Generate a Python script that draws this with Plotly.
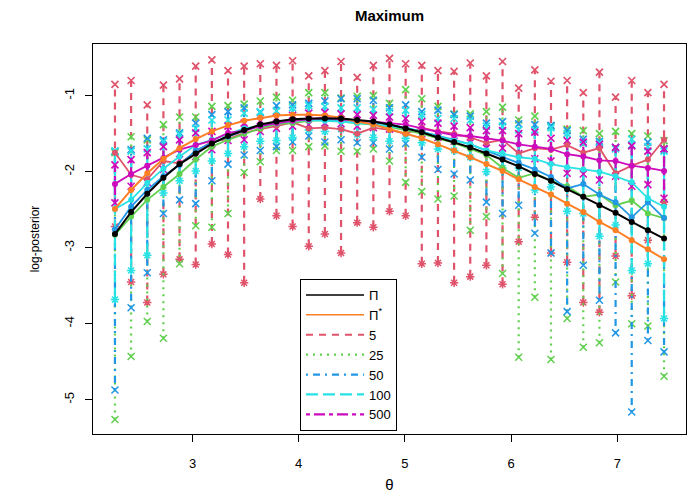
import numpy as np
import plotly.graph_objects as go

# grid of theta values
theta = np.linspace(2.27, 7.44, 35)

# exact log-posterior and its approximation
pi_exact = [-2.82, -2.53, -2.29, -2.08, -1.90, -1.76, -1.63, -1.53, -1.45, -1.38, -1.34, -1.31,
            -1.30, -1.30, -1.30, -1.32, -1.34, -1.38, -1.43, -1.48, -1.55, -1.61, -1.68, -1.76,
            -1.84, -1.93, -2.03, -2.12, -2.23, -2.33, -2.44, -2.54, -2.66, -2.77, -2.88]
pi_star = [-2.49, -2.24, -2.02, -1.83, -1.69, -1.57, -1.47, -1.39, -1.33, -1.29, -1.26, -1.25,
           -1.25, -1.26, -1.29, -1.34, -1.38, -1.44, -1.50, -1.56, -1.64, -1.72, -1.81, -1.90,
           -1.99, -2.10, -2.20, -2.30, -2.42, -2.53, -2.66, -2.77, -2.90, -3.02, -3.15]

sizes = ["5", "25", "50", "100", "500"]

# mean curves per sample size
mean_5 = [-1.75, -2.04, -2.10, -1.86, -1.89, -1.75, -1.60, -1.57, -1.49, -1.44, -1.40, -1.35,
          -1.43, -1.42, -1.44, -1.50, -1.42, -1.45, -1.50, -1.42, -1.47, -1.50, -1.55, -1.62,
          -1.58, -1.76, -1.69, -1.71, -1.65, -1.75, -1.69, -2.02, -1.92, -1.84, -1.58]
mean_25 = [-2.83, -2.59, -2.37, -2.20, -2.03, -1.84, -1.67, -1.58, -1.50, -1.43, -1.37, -1.36,
           -1.33, -1.32, -1.34, -1.36, -1.38, -1.41, -1.45, -1.50, -1.56, -1.62, -1.70, -1.78,
           -1.95, -2.08, -2.02, -2.12, -2.19, -2.33, -2.30, -2.44, -2.38, -2.55, -2.61]
mean_50 = [-2.76, -2.46, -2.24, -2.06, -1.91, -1.72, -1.62, -1.54, -1.46, -1.40, -1.36, -1.33,
           -1.31, -1.31, -1.32, -1.33, -1.35, -1.38, -1.42, -1.47, -1.52, -1.58, -1.64, -1.72,
           -1.80, -1.88, -1.97, -2.07, -2.22, -2.16, -2.30, -2.40, -2.60, -2.40, -2.61]
mean_100 = [-2.49, -2.37, -2.15, -1.96, -1.80, -1.65, -1.58, -1.51, -1.43, -1.40, -1.36, -1.33,
            -1.32, -1.33, -1.34, -1.36, -1.38, -1.40, -1.43, -1.47, -1.54, -1.59, -1.64, -1.72,
            -1.76, -1.81, -1.83, -1.90, -1.94, -1.97, -2.00, -2.06, -2.14, -2.35, -2.46]
mean_500 = [-2.16, -2.03, -1.92, -1.82, -1.71, -1.65, -1.59, -1.49, -1.46, -1.40, -1.36, -1.33,
            -1.31, -1.29, -1.31, -1.33, -1.34, -1.36, -1.38, -1.43, -1.48, -1.52, -1.53, -1.56,
            -1.59, -1.64, -1.67, -1.70, -1.77, -1.80, -1.85, -1.86, -1.92, -1.95, -1.99]

# maxima over replicates
hi_5 = [-0.85, -0.80, -1.12, -0.86, -0.78, -0.61, -0.53, -0.67, -0.61, -0.58, -0.60, -0.54,
        -0.74, -0.67, -0.55, -0.76, -0.60, -0.51, -0.58, -0.60, -0.67, -0.68, -0.57, -0.74,
        -0.55, -0.90, -0.66, -0.81, -0.80, -0.96, -0.69, -1.02, -0.80, -0.96, -0.85]
hi_25 = [-1.75, -1.54, -1.58, -1.38, -1.28, -1.28, -1.14, -1.13, -1.11, -1.07, -1.02, -1.06,
         -0.96, -0.96, -1.03, -1.01, -1.00, -1.10, -0.92, -1.04, -1.14, -1.24, -1.24, -1.21,
         -1.15, -1.32, -1.27, -1.40, -1.44, -1.46, -1.50, -1.47, -1.50, -1.53, -1.59]
hi_50 = [-1.73, -1.71, -1.56, -1.58, -1.49, -1.36, -1.25, -1.21, -1.16, -1.22, -1.13, -1.12,
         -1.10, -1.07, -1.04, -1.04, -1.06, -1.16, -1.12, -1.21, -1.19, -1.25, -1.27, -1.36,
         -1.34, -1.37, -1.38, -1.39, -1.46, -1.57, -1.60, -1.68, -1.65, -1.61, -1.70]
hi_100 = [-1.73, -1.73, -1.70, -1.60, -1.51, -1.43, -1.32, -1.32, -1.23, -1.21, -1.20, -1.16,
          -1.13, -1.14, -1.16, -1.16, -1.18, -1.21, -1.19, -1.25, -1.30, -1.30, -1.32, -1.40,
          -1.40, -1.45, -1.45, -1.42, -1.50, -1.63, -1.62, -1.70, -1.57, -1.67, -1.73]
hi_500 = [-1.91, -1.84, -1.75, -1.67, -1.58, -1.49, -1.47, -1.40, -1.36, -1.33, -1.29, -1.26,
          -1.23, -1.22, -1.24, -1.25, -1.26, -1.28, -1.30, -1.34, -1.36, -1.40, -1.42, -1.46,
          -1.46, -1.50, -1.48, -1.56, -1.59, -1.61, -1.64, -1.68, -1.66, -1.73, -1.70]

# minima over replicates
lo_5 = [-2.72, -3.45, -3.72, -3.35, -3.15, -3.22, -2.95, -3.09, -3.46, -2.36, -2.58, -2.72,
        -2.98, -2.82, -3.07, -2.67, -2.73, -2.52, -2.58, -3.21, -3.20, -3.46, -3.38, -3.23,
        -3.48, -2.92, -2.60, -3.07, -3.19, -3.72, -3.85, -3.11, -3.63, -2.90, -2.40]
lo_25 = [-5.26, -4.43, -3.97, -4.19, -3.21, -2.71, -2.73, -2.55, -2.01, -1.87, -1.72, -1.72,
         -1.67, -1.66, -1.73, -1.73, -1.70, -1.86, -2.14, -2.26, -2.36, -2.32, -2.77, -2.59,
         -3.34, -4.44, -3.65, -4.47, -3.93, -4.31, -4.25, -3.45, -4.00, -4.03, -4.69]
lo_50 = [-4.87, -3.79, -3.33, -2.55, -2.37, -2.42, -2.12, -1.90, -1.78, -1.72, -1.67, -1.61,
         -1.53, -1.61, -1.58, -1.62, -1.62, -1.70, -1.63, -1.81, -1.97, -2.03, -2.11, -2.40,
         -2.55, -2.44, -2.81, -3.07, -3.84, -3.23, -3.69, -4.12, -5.16, -4.22, -4.37]
lo_100 = [-3.68, -3.30, -3.10, -2.28, -2.12, -1.99, -1.86, -1.76, -1.67, -1.60, -1.59, -1.55,
          -1.45, -1.47, -1.44, -1.51, -1.55, -1.60, -1.56, -1.62, -1.70, -1.72, -1.81, -2.00,
          -1.95, -1.95, -2.24, -2.20, -2.52, -2.55, -2.85, -2.70, -3.30, -3.21, -3.93]
lo_500 = [-2.41, -2.19, -2.14, -1.97, -1.84, -1.80, -1.71, -1.59, -1.58, -1.47, -1.43, -1.40,
          -1.38, -1.36, -1.37, -1.40, -1.42, -1.44, -1.46, -1.50, -1.55, -1.60, -1.62, -1.69,
          -1.69, -1.76, -1.83, -1.86, -2.02, -2.03, -2.11, -2.06, -2.19, -2.17, -2.35]

y_ticks = [-5, -4, -3, -2, -1]
y_tick_labels = ["-5", "-4", "-3", "-2", "-1"]
x_ticks = [3, 4, 5, 6, 7]
x_tick_labels = ["3", "4", "5", "6", "7"]

colors = ["#DF536B", "#61D04F", "#2297E6", "#28E2E5", "#CD0BBC"]
dashes = ["7px,6px", "2px,5px", "2px,5px,7px,5px", "12px,5px", "4px,4px,11px,4px"]
lo_symbols = ["asterisk-open", "x-thin-open", "x-thin-open", "asterisk-open", "x-thin-open"]
lo_sizes = [7, 7, 7, 7, 7]
means = [mean_5, mean_25, mean_50, mean_100, mean_500]
his = [hi_5, hi_25, hi_50, hi_100, hi_500]
los = [lo_5, lo_25, lo_50, lo_100, lo_500]
orange = "#FF7F24"

fig = go.Figure()

# vertical min-max ranges with end markers
for k, name in enumerate(sizes):
    c = colors[k]
    xs, ys = [], []
    for t, a, b in zip(theta, los[k], his[k]):
        xs += [t, t, None]
        ys += [a, b, None]
    fig.add_trace(go.Scatter(
        x=xs, y=ys, mode="lines", name=name, legendrank=10 + k,
        line=dict(color=c, width=2.2, dash=dashes[k]),
    ))
    fig.add_trace(go.Scatter(
        x=theta, y=his[k], mode="markers", showlegend=False,
        marker=dict(symbol="x-thin-open", size=7, color=c, line=dict(color=c, width=1.7)),
    ))
    fig.add_trace(go.Scatter(
        x=theta, y=los[k], mode="markers", showlegend=False,
        marker=dict(symbol=lo_symbols[k], size=lo_sizes[k], color=c, line=dict(color=c, width=1.5)),
    ))

# mean curves
for k, name in enumerate(sizes):
    fig.add_trace(go.Scatter(
        x=theta, y=means[k], mode="lines+markers", showlegend=False,
        line=dict(color=colors[k], width=1.8),
        marker=dict(color=colors[k], size=6),
    ))

# reference curves
fig.add_trace(go.Scatter(
    x=theta, y=pi_star, mode="lines+markers", showlegend=False,
    line=dict(color=orange, width=2), marker=dict(color=orange, size=6),
))
fig.add_trace(go.Scatter(
    x=theta, y=pi_exact, mode="lines+markers", showlegend=False,
    line=dict(color="black", width=2), marker=dict(color="black", size=6),
))
fig.add_trace(go.Scatter(x=[None], y=[None], mode="lines", name="Π", legendrank=1,
                         line=dict(color="black", width=1.5)))
fig.add_trace(go.Scatter(x=[None], y=[None], mode="lines", name="Π<sup>*</sup>", legendrank=2,
                         line=dict(color=orange, width=1.5)))

# R-style axis limits: data range padded by 4 %
all_y = np.concatenate([np.array(v, dtype=float) for v in his + los + means + [pi_exact, pi_star]])
x_pad = 0.04 * (theta.max() - theta.min())
y_pad = 0.04 * (all_y.max() - all_y.min())

font_family = "Liberation Sans, Arial, sans-serif"
axis_font = dict(family=font_family, size=13, color="black")
fig.update_layout(
    width=687, height=493,
    margin=dict(l=93, r=1, t=44, b=59),
    paper_bgcolor="white", plot_bgcolor="white",
    title=dict(text="<b>Maximum</b>", x=(93 + 593 / 2) / 687, xanchor="center",
               y=1 - 16 / 493, yanchor="middle",
               font=dict(family=font_family, size=15, color="black")),
    xaxis=dict(range=[theta.min() - x_pad, theta.max() + x_pad],
               tickvals=x_ticks, ticktext=x_tick_labels,
               showgrid=False, zeroline=False, showline=True, linecolor="black", linewidth=1,
               mirror=True, ticks="outside", ticklen=7, tickcolor="black",
               ticklabelstandoff=10, tickfont=axis_font,
               title=dict(text="θ", font=dict(family=font_family, size=15, color="black"),
                          standoff=12)),
    yaxis=dict(range=[all_y.min() - y_pad, all_y.max() + y_pad],
               tickvals=y_ticks, ticktext=y_tick_labels, tickangle=-90,
               showgrid=False, zeroline=False, showline=True, linecolor="black", linewidth=1,
               mirror=True, ticks="outside", ticklen=7, tickcolor="black",
               ticklabelstandoff=6, tickfont=axis_font,
               title=dict(text="log-posterior", font=dict(family=font_family, size=12, color="black"),
                          standoff=19)),
    legend=dict(x=(300 - 93) / 593, y=(434 - 279) / 390, xanchor="left", yanchor="top",
                bgcolor="white", bordercolor="black", borderwidth=1,
                font=dict(family=font_family, size=13, color="black"),
                itemwidth=58, tracegroupgap=0),
    showlegend=True,
)

fig.write_html("out.html")
